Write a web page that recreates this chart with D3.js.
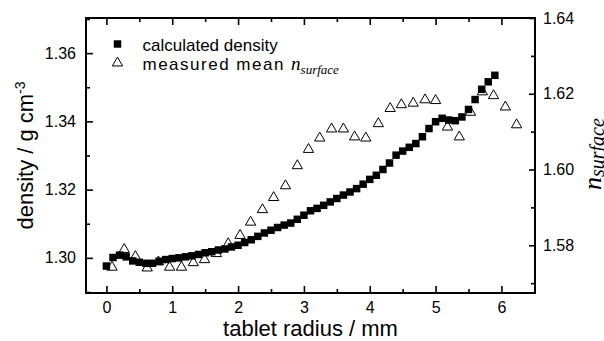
<!DOCTYPE html>
<html>
<head>
<meta charset="utf-8">
<script src="https://cdn.jsdelivr.net/npm/d3@7"></script>
<style>
  html, body { margin: 0; padding: 0; background: #fff; }
  svg { display: block; }
  .tick text { font-family: "Liberation Sans", Arial, sans-serif; font-size: 16px; fill: #000; }
</style>
</head>
<body>
<svg id="chart" width="604" height="341"></svg>
<script>
// ---- data ----
const radius = [0.0,0.1,0.2,0.3,0.4,0.5,0.6,0.7,0.8,0.9,1.0,1.1,1.2,1.3,1.4,1.5,1.6,1.7,1.8,1.9,
  2.0,2.1,2.2,2.3,2.4,2.5,2.6,2.7,2.8,2.9,3.0,3.1,3.2,3.3,3.4,3.5,3.6,3.7,3.8,3.9,
  4.0,4.1,4.2,4.3,4.4,4.5,4.6,4.7,4.8,4.9,5.0,5.1,5.2,5.3,5.4,5.5,5.6,5.7,5.8,5.9];
const density = [1.2976,1.3001,1.3008,1.3003,1.2991,1.2987,1.2984,1.2984,1.2990,1.2995,
  1.2998,1.3000,1.3003,1.3006,1.3010,1.3015,1.3018,1.3023,1.3026,1.3032,
  1.3037,1.3045,1.3053,1.3063,1.3073,1.3081,1.3089,1.3096,1.3102,1.3113,
  1.3125,1.3138,1.3145,1.3154,1.3164,1.3174,1.3184,1.3193,1.3203,1.3216,
  1.3230,1.3242,1.3259,1.3278,1.3301,1.3313,1.3324,1.3335,1.3355,1.3379,
  1.3399,1.3409,1.3404,1.3402,1.3413,1.3435,1.3464,1.3494,1.3516,1.3535];
const radiusN = [0.085,0.27,0.44,0.62,0.79,0.96,1.14,1.32,1.49,1.67,1.85,2.03,2.19,2.37,2.54,2.72,2.90,3.07,
  3.24,3.42,3.60,3.77,3.94,4.13,4.31,4.48,4.66,4.84,5.00,5.18,5.36,5.53,5.71,5.88,6.06,6.23];
const nSurface = [1.5742,1.5789,1.5770,1.5740,1.5756,1.5742,1.5742,1.5754,1.5762,1.5778,1.5804,1.5826,
  1.5861,1.5894,1.5926,1.5957,1.6010,1.6053,1.6083,1.6107,1.6107,1.6086,1.6083,1.6121,
  1.6161,1.6171,1.6175,1.6184,1.6182,1.6112,1.6086,1.6151,1.6205,1.6195,1.6165,1.6118];
const xTicks = [0,1,2,3,4,5,6];
const xMinor = [0.5,1.5,2.5,3.5,4.5,5.5];
const yLeftTicks = [1.30,1.32,1.34,1.36];
const yLeftMinor = [1.29,1.31,1.33,1.35,1.37];
const yRightTicks = [1.58,1.60,1.62,1.64];
const yRightMinor = [1.57,1.59,1.61,1.63];

// ---- layout ----
const svg = d3.select("#chart");
const L = 86, R = 535, T = 18, B = 293;
const x = d3.scaleLinear().domain([-0.31, 6.51]).range([L, R]);
const yL = d3.scaleLinear().domain([1.2897, 1.3703]).range([B, T]);
const yR = d3.scaleLinear().domain([1.5674, 1.6400]).range([B, T]);
const font = '"Liberation Sans", Arial, sans-serif';
const serif = '"Liberation Serif", "Times New Roman", serif';

function styleAxis(g) {
  g.select(".domain").remove();
  g.selectAll(".tick line").attr("stroke", "#000").attr("stroke-width", 1.6);
}

// bottom
svg.append("g").attr("transform", `translate(0,${B})`)
  .call(d3.axisBottom(x).tickValues(xTicks).tickSize(-7).tickPadding(9).tickFormat(d3.format("d")))
  .call(styleAxis);
svg.append("g").attr("transform", `translate(0,${B})`)
  .call(d3.axisBottom(x).tickValues(xMinor).tickSize(-4).tickFormat(""))
  .call(styleAxis);
// top
svg.append("g").attr("transform", `translate(0,${T})`)
  .call(d3.axisTop(x).tickValues(xTicks).tickSize(-7).tickFormat(""))
  .call(styleAxis);
svg.append("g").attr("transform", `translate(0,${T})`)
  .call(d3.axisTop(x).tickValues(xMinor).tickSize(-4).tickFormat(""))
  .call(styleAxis);
// left
svg.append("g").attr("transform", `translate(${L},0)`)
  .call(d3.axisLeft(yL).tickValues(yLeftTicks).tickSize(-7).tickPadding(10).tickFormat(d3.format(".2f")))
  .call(styleAxis);
svg.append("g").attr("transform", `translate(${L},0)`)
  .call(d3.axisLeft(yL).tickValues(yLeftMinor.filter(v => yL(v) >= T && yL(v) <= B)).tickSize(-4).tickFormat(""))
  .call(styleAxis);
// right
svg.append("g").attr("transform", `translate(${R},0)`)
  .call(d3.axisRight(yR).tickValues(yRightTicks).tickSize(-6).tickPadding(8).tickFormat(d3.format(".2f")))
  .call(styleAxis);
svg.append("g").attr("transform", `translate(${R},0)`)
  .call(d3.axisRight(yR).tickValues(yRightMinor).tickSize(-4).tickFormat(""))
  .call(styleAxis);

// frame
svg.append("rect").attr("x", L).attr("y", T).attr("width", R - L).attr("height", B - T)
  .attr("fill", "none").attr("stroke", "#000").attr("stroke-width", 2);

// data marks
const sq = d3.symbol().type(d3.symbolSquare).size(56);
const tri = d3.symbol().type(d3.symbolTriangle).size(46);

svg.append("g").selectAll("path").data(radiusN.map((r, i) => [r, nSurface[i]])).join("path")
  .attr("d", tri).attr("transform", d => `translate(${x(d[0])},${yR(d[1])})`)
  .attr("fill", "#fff").attr("stroke", "#000").attr("stroke-width", 1);

svg.append("g").selectAll("path").data(radius.map((r, i) => [r, density[i]])).join("path")
  .attr("d", sq).attr("transform", d => `translate(${x(d[0])},${yL(d[1])})`)
  .attr("fill", "#000");

// legend
svg.append("path").attr("d", sq).attr("transform", "translate(117.5,44)").attr("fill", "#000");
svg.append("path").attr("d", tri).attr("transform", "translate(117.5,63)")
  .attr("fill", "#fff").attr("stroke", "#000").attr("stroke-width", 1);
svg.append("text").attr("x", 142.5).attr("y", 51)
  .attr("font-family", font).attr("font-size", 17).text("calculated density");
const lt = svg.append("text").attr("x", 142.5).attr("y", 70)
  .attr("font-family", font).attr("font-size", 17);
lt.append("tspan").attr("letter-spacing", 1.5).text("measured mean ");
lt.append("tspan").attr("font-family", serif).attr("font-style", "italic").attr("font-size", 19).text("n");
lt.append("tspan").attr("font-family", serif).attr("font-style", "italic").attr("font-size", 13).attr("dy", 4).text("surface");

// axis titles
svg.append("text").attr("x", (L + R) / 2).attr("y", 336).attr("text-anchor", "middle")
  .attr("font-family", font).attr("font-size", 22).text("tablet radius / mm");

const yt = svg.append("text").attr("transform", `translate(33,${(T + B) / 2}) rotate(-90)`)
  .attr("text-anchor", "middle").attr("font-family", font).attr("font-size", 22);
yt.append("tspan").text("density / g cm");
yt.append("tspan").attr("font-size", 14).attr("dy", -8).text("-3");

const rt = svg.append("text").attr("transform", `translate(601,190) rotate(-90)`)
  .attr("font-family", serif).attr("font-style", "italic").attr("fill", "#000");
rt.append("tspan").attr("font-size", 26).text("n");
rt.append("tspan").attr("font-size", 20).attr("dy", 3).text("surface");
</script>
</body>
</html>
